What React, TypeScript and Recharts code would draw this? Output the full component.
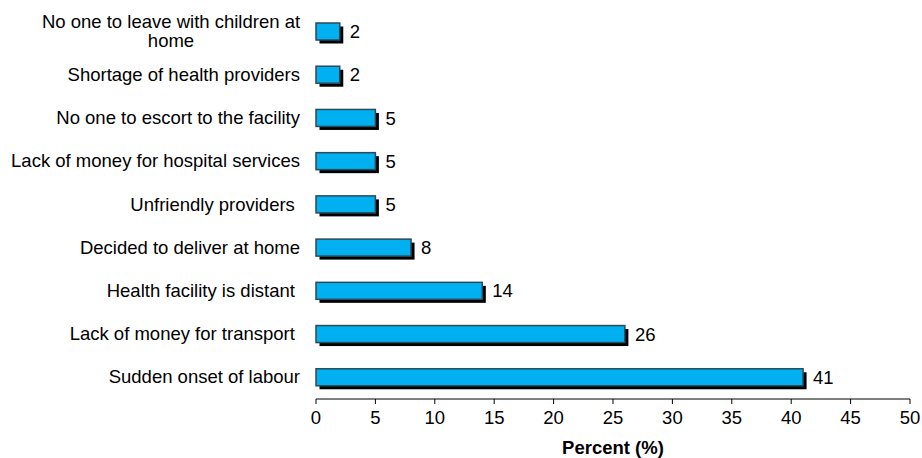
import React from "react";
import { BarChart, Bar, XAxis, YAxis, LabelList, Label } from "recharts";

const categories = [
  "No one to leave with children at home",
  "Shortage of health providers",
  "No one to escort to the facility",
  "Lack of money for hospital services",
  "Unfriendly providers ",
  "Decided to deliver at home",
  "Health facility is distant ",
  "Lack of money for transport ",
  "Sudden onset of labour",
];
const percents = [2, 2, 5, 5, 5, 8, 14, 26, 41];
const xTicks = [0, 5, 10, 15, 20, 25, 30, 35, 40, 45, 50];

const data = categories.map((c, i) => ({ reason: c, value: percents[i] }));

const FONT = "'Liberation Sans', Arial, sans-serif";
const FS = 18.5;

const ShadowBar = (props: any) => {
  const { x, y, width, height } = props;
  if (width <= 0) return null;
  return (
    <g>
      <rect x={x + 3.5} y={y + 3.5} width={width} height={height} fill="#000" />
      <rect x={x} y={y} width={width} height={height} fill="#00B0F0" stroke="#2B4A5A" strokeWidth={1.5} />
    </g>
  );
};

const YTick = (props: any) => {
  const { x, y, payload } = props;
  const text: string = payload.value;
  const tx = x - 8;
  if (text === categories[0]) {
    return (
      <text fontFamily={FONT} fontSize={FS} fill="#000" textAnchor="middle">
        <tspan x={tx - 129} y={y - 9.5 + 6}>No one to leave with children at</tspan>
        <tspan x={tx - 129} y={y + 9.5 + 6}>home</tspan>
      </text>
    );
  }
  return (
    <text x={tx} y={y + 6} fontFamily={FONT} fontSize={FS} fill="#000" textAnchor="end" style={{ whiteSpace: "pre" }}>
      {text}
    </text>
  );
};

export default function App() {
  return (
    <div style={{ position: "absolute", left: 0, top: 0, background: "#fff" }}>
      <BarChart
        width={922}
        height={458}
        data={data}
        layout="vertical"
        margin={{ top: 10, right: 12, bottom: 0, left: 0 }}
        barSize={17}
      >
        <XAxis
          type="number"
          domain={[0, 50]}
          ticks={xTicks}
          interval={0}
          tickSize={5}
          tickMargin={7}
          stroke="#000"
          tick={{ fill: "#000", fontSize: FS, fontFamily: FONT }}
          height={59}
        >
          <Label
            value="Percent (%)"
            position="insideBottom"
            offset={4}
            style={{ fontFamily: FONT, fontSize: FS, fontWeight: "bold", fill: "#000" }}
          />
        </XAxis>
        <YAxis
          type="category"
          dataKey="reason"
          width={316}
          axisLine={false}
          tickLine={false}
          tick={<YTick />}
          interval={0}
        />
        <Bar dataKey="value" shape={<ShadowBar />} isAnimationActive={false}>
          <LabelList
            dataKey="value"
            position="right"
            offset={10}
            style={{ fontFamily: FONT, fontSize: FS, fill: "#000" }}
          />
        </Bar>
      </BarChart>
    </div>
  );
}
